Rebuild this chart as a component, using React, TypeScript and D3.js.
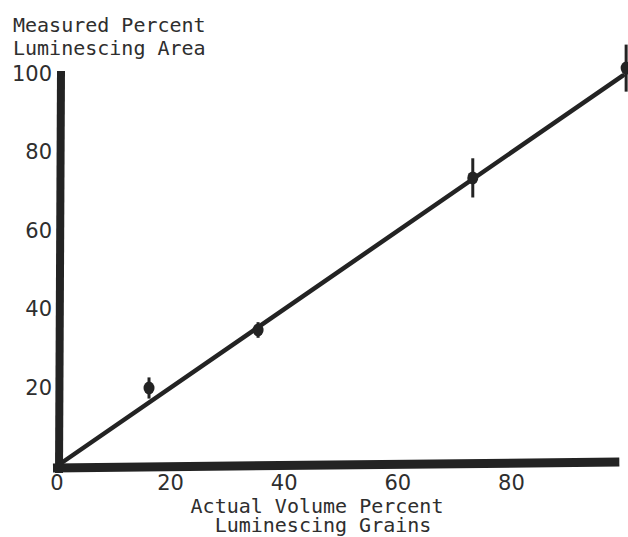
import React from 'react'
import { scaleLinear, line } from 'd3'

// values
const xTicks = [0, 20, 40, 60, 80]
const yTicks = [20, 40, 60, 80, 100]
const pointX = [16.2, 35.4, 73.2, 100.2]
const pointY = [19.9, 34.7, 73.5, 101.5]
const errY = [2.7, 2, 5, 6]
const fitX = [0, 99.6]
const fitY = [0, 99.6]

const W = 628
const H = 537
const ink = '#232323'
const textInk = '#2e2e2e'

const x = scaleLinear().domain([0, 100]).range([57, 625])
const y = scaleLinear().domain([0, 100]).range([466, 74])

export default function App() {
  const fit = line<number>()
    .x(d => x(fitX[d]))
    .y(d => y(fitY[d]))([0, 1])

  // hand-drawn looking axes, slightly off square like the original
  const yAxis = line<[number, number]>()([
    [x(0) + 4, y(100) - 3],
    [x(0) + 2, y(0) + 7],
  ])
  const xAxis = line<[number, number]>()([
    [x(0) - 4, y(0) + 2],
    [x(99), y(0) - 4],
  ])

  return (
    <div style={{ position: 'absolute', left: 0, top: 0 }}>
      <svg width={W} height={H} style={{ display: 'block', background: '#fff' }}>
        <g fill={textInk} fontFamily="'DejaVu Sans Mono', monospace" fontSize={20}>
          <text x={13} y={32}>Measured Percent</text>
          <text x={13} y={55}>Luminescing Area</text>
          <text x={317} y={513} textAnchor="middle">Actual Volume Percent</text>
          <text x={323} y={532} textAnchor="middle">Luminescing Grains</text>
        </g>

        <g fill={textInk} fontFamily="'DejaVu Sans', sans-serif" fontSize={21}>
          {yTicks.map(t => (
            <text key={'y' + t} x={x(0) - 5} y={y(t)} textAnchor="end" dominantBaseline="central">
              {t}
            </text>
          ))}
          {xTicks.map(t => (
            <text key={'x' + t} x={x(t)} y={y(0) + 17} textAnchor="middle" dominantBaseline="central">
              {t}
            </text>
          ))}
        </g>

        <path d={yAxis ?? ''} stroke={ink} strokeWidth={8} fill="none" />
        <path d={xAxis ?? ''} stroke={ink} strokeWidth={9} fill="none" />

        <path d={fit ?? ''} stroke={ink} strokeWidth={4.5} fill="none" strokeLinecap="round" />

        {pointX.map((px, i) => (
          <g key={i}>
            <line
              x1={x(px)}
              x2={x(px)}
              y1={y(pointY[i] - errY[i])}
              y2={y(pointY[i] + errY[i])}
              stroke={ink}
              strokeWidth={3}
            />
            <ellipse cx={x(px)} cy={y(pointY[i])} rx={5.5} ry={6.5} fill={ink} />
          </g>
        ))}
      </svg>
    </div>
  )
}
